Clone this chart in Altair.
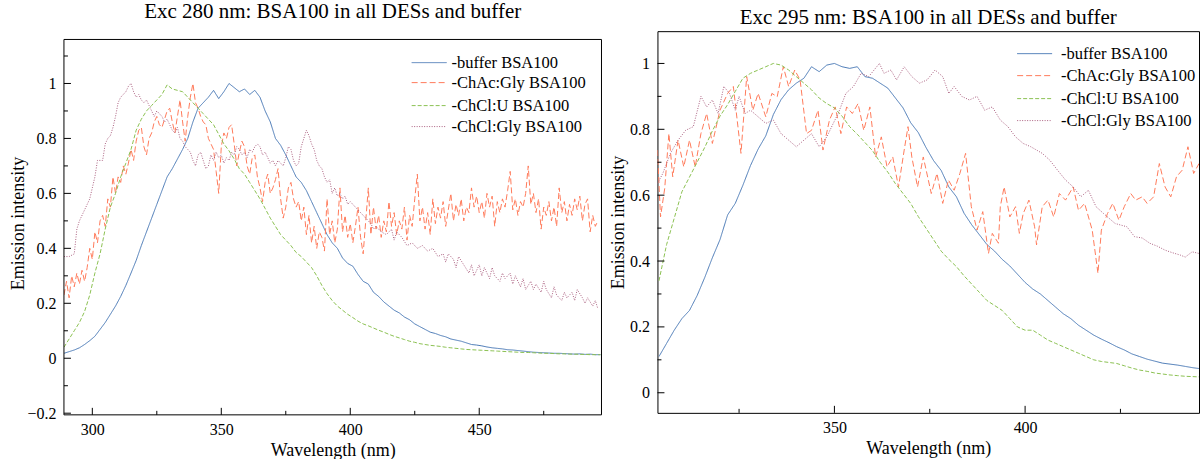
import altair as alt
import pandas as pd

FONT = "Liberation Serif"
SERIES = ["-buffer BSA100", "-ChAc:Gly BSA100", "-ChCl:U BSA100", "-ChCl:Gly BSA100"]
COLORS = ["#4a79b6", "#ff7a5a", "#8cc152", "#ab5f80"]
DASHES = [[1, 0], [6, 3], [4, 2], [1, 1.5]]
TITLES = ["Exc 280 nm: BSA100 in all DESs and buffer", "Exc 295 nm: BSA100 in all DESs and buffer"]
X_TITLE = "Wavelength (nm)"
Y_TITLE = "Emission intensity"

# ---------------- Panel A: excitation 280 nm ----------------
a_grid = list(range(289, 498, 2))
a_buffer = [0.018, 0.024, 0.03, 0.038, 0.05, 0.064, 0.08, 0.105, 0.13, 0.16,
            0.19, 0.225, 0.265, 0.31, 0.356, 0.41, 0.46, 0.51, 0.56, 0.61,
            0.66, 0.69, 0.725, 0.76, 0.80, 0.86, 0.91, 0.93, 0.95, 0.975,
            0.945, 0.97, 1.0, 0.985, 0.97, 0.98, 0.96, 0.975, 0.95, 0.90,
            0.86, 0.80, 0.775, 0.74, 0.70, 0.66, 0.64, 0.61, 0.57, 0.53,
            0.49, 0.45, 0.42, 0.40, 0.365, 0.345, 0.335, 0.305, 0.28, 0.27,
            0.24, 0.225, 0.205, 0.19, 0.175, 0.165, 0.15, 0.14, 0.125, 0.115,
            0.105, 0.095, 0.09, 0.083, 0.078, 0.07, 0.066, 0.062, 0.056, 0.05,
            0.048, 0.045, 0.041, 0.038, 0.036, 0.034, 0.031, 0.03, 0.028, 0.026,
            0.024, 0.022, 0.021, 0.02, 0.019, 0.018, 0.018, 0.017, 0.016, 0.015,
            0.016, 0.014, 0.015, 0.013, 0.013]
a_chcl_u = [0.04, 0.07, 0.10, 0.13, 0.17, 0.23, 0.31, 0.38, 0.47, 0.55,
            0.60, 0.66, 0.71, 0.76, 0.83, 0.87, 0.90, 0.92, 0.94, 0.96,
            0.995, 0.98, 0.975, 0.97, 0.95, 0.93, 0.91, 0.89, 0.87, 0.85,
            0.815, 0.78, 0.755, 0.725, 0.69, 0.67, 0.64, 0.61, 0.58, 0.545,
            0.51, 0.48, 0.45, 0.43, 0.41, 0.385, 0.37, 0.35, 0.33, 0.30,
            0.265, 0.235, 0.21, 0.19, 0.175, 0.16, 0.148, 0.135, 0.125, 0.118,
            0.11, 0.102, 0.095, 0.087, 0.08, 0.074, 0.068, 0.062, 0.058, 0.053,
            0.05, 0.047, 0.045, 0.043, 0.04, 0.038, 0.036, 0.034, 0.032, 0.031,
            0.03, 0.029, 0.028, 0.027, 0.026, 0.025, 0.024, 0.023, 0.022, 0.021,
            0.021, 0.02, 0.019, 0.018, 0.018, 0.017, 0.016, 0.016, 0.015, 0.015,
            0.014, 0.014, 0.013, 0.013, 0.013]
a_chac_x = list(range(289, 497))
a_chac = [0.23, 0.28, 0.22, 0.30, 0.26, 0.31, 0.27, 0.32, 0.28, 0.33, 0.40,
          0.36, 0.46, 0.42, 0.50, 0.52, 0.48, 0.58, 0.55, 0.66, 0.60,
          0.66, 0.64, 0.70, 0.67, 0.71, 0.76, 0.72, 0.79, 0.83, 0.84,
          0.77, 0.74, 0.80, 0.82, 0.86, 0.88, 0.85, 0.84, 0.87, 0.90,
          0.91, 0.86, 0.82, 0.88, 0.94, 0.86, 0.79, 0.88, 0.95, 1.0,
          0.93, 0.91, 0.88, 0.86, 0.85, 0.80, 0.78, 0.76, 0.68, 0.60,
          0.77, 0.82, 0.80, 0.84, 0.85, 0.78, 0.70, 0.75, 0.79, 0.77,
          0.70, 0.67, 0.73, 0.74, 0.66, 0.62, 0.57, 0.64, 0.67, 0.60,
          0.62, 0.65, 0.69, 0.58, 0.51, 0.55, 0.62, 0.64, 0.58, 0.55,
          0.57, 0.50, 0.55, 0.45, 0.52, 0.42, 0.48, 0.40, 0.46, 0.44,
          0.39, 0.58, 0.45, 0.50, 0.42, 0.47, 0.62, 0.46, 0.52, 0.44,
          0.49, 0.42, 0.48, 0.55, 0.44, 0.38, 0.50, 0.62, 0.45, 0.55,
          0.47, 0.52, 0.44, 0.50, 0.46, 0.57, 0.48, 0.53, 0.45, 0.50,
          0.47, 0.55, 0.43, 0.52, 0.48, 0.58, 0.67, 0.50, 0.55, 0.47,
          0.53, 0.45, 0.58, 0.49, 0.55, 0.51, 0.57, 0.48, 0.54, 0.60,
          0.50, 0.56, 0.52, 0.58, 0.50, 0.55, 0.53, 0.62, 0.55, 0.59,
          0.53, 0.57, 0.51, 0.60, 0.55, 0.59, 0.48, 0.57, 0.53, 0.58,
          0.55, 0.61, 0.68, 0.54, 0.58, 0.52, 0.57, 0.55, 0.60, 0.70,
          0.56, 0.60, 0.53, 0.58, 0.47, 0.55, 0.52, 0.57, 0.50, 0.55,
          0.48, 0.62, 0.53, 0.57, 0.50, 0.56, 0.52, 0.58, 0.54, 0.59,
          0.50, 0.56, 0.58, 0.46, 0.52, 0.48, 0.50]
a_chcl_gly = [(289, 0.37), (291, 0.37), (293, 0.38), (294, 0.47), (295, 0.50), (297, 0.54),
              (299, 0.58), (300, 0.62), (301, 0.66), (302, 0.72), (304, 0.72), (305, 0.78),
              (306, 0.80), (307, 0.81), (308, 0.84), (309, 0.88), (310, 0.93), (311, 0.95),
              (312, 0.96), (313, 0.97), (314, 0.99), (315, 1.0), (316, 0.97), (317, 0.95),
              (318, 0.96), (319, 0.94), (320, 0.93), (321, 0.94), (322, 0.92), (323, 0.90),
              (324, 0.88), (325, 0.90), (326, 0.89), (327, 0.88), (328, 0.86), (329, 0.87),
              (330, 0.85), (331, 0.83), (332, 0.82), (333, 0.84), (334, 0.80), (335, 0.79),
              (336, 0.77), (337, 0.76), (338, 0.75), (339, 0.72), (340, 0.70), (341, 0.74),
              (342, 0.75), (343, 0.72), (344, 0.69), (345, 0.70), (346, 0.74), (347, 0.72),
              (348, 0.75), (349, 0.73), (350, 0.74), (351, 0.71), (352, 0.73), (353, 0.72),
              (354, 0.75), (355, 0.74), (356, 0.77), (357, 0.76), (358, 0.74), (359, 0.75),
              (360, 0.73), (361, 0.76), (362, 0.75), (363, 0.77), (364, 0.78), (365, 0.77),
              (366, 0.74), (367, 0.75), (368, 0.73), (369, 0.71), (370, 0.72), (371, 0.70),
              (372, 0.72), (373, 0.71), (374, 0.70), (375, 0.73), (376, 0.77), (377, 0.76),
              (378, 0.72), (379, 0.70), (380, 0.71), (381, 0.77), (382, 0.80), (383, 0.83),
              (384, 0.81), (385, 0.78), (386, 0.76), (387, 0.72), (388, 0.70), (389, 0.69),
              (390, 0.66), (391, 0.64), (392, 0.65), (393, 0.60), (394, 0.62), (395, 0.59),
              (396, 0.60), (397, 0.58), (398, 0.59), (399, 0.56), (400, 0.57), (402, 0.55),
              (404, 0.53), (406, 0.51), (408, 0.49), (409, 0.47), (410, 0.48), (412, 0.46),
              (414, 0.45), (416, 0.47), (417, 0.43), (418, 0.46), (420, 0.44), (422, 0.41),
              (424, 0.42), (426, 0.40), (428, 0.41), (430, 0.39), (432, 0.40), (434, 0.37),
              (436, 0.38), (437, 0.35), (438, 0.38), (440, 0.36), (441, 0.33), (442, 0.37),
              (444, 0.34), (446, 0.31), (447, 0.34), (448, 0.30), (450, 0.34), (451, 0.30),
              (452, 0.33), (454, 0.29), (455, 0.33), (456, 0.30), (458, 0.28), (459, 0.31),
              (460, 0.29), (462, 0.31), (463, 0.27), (464, 0.30), (466, 0.26), (467, 0.29),
              (468, 0.25), (470, 0.28), (471, 0.25), (472, 0.27), (474, 0.24), (475, 0.28),
              (476, 0.25), (478, 0.22), (479, 0.26), (480, 0.23), (482, 0.21), (483, 0.24),
              (484, 0.22), (486, 0.24), (487, 0.21), (488, 0.25), (490, 0.22), (491, 0.20),
              (492, 0.22), (494, 0.19), (495, 0.21), (496, 0.18)]

# ---------------- Panel B: excitation 295 nm ----------------
b_grid = list(range(304, 447, 2))
b_buffer = [0.11, 0.15, 0.19, 0.225, 0.25, 0.295, 0.35, 0.41, 0.465, 0.54,
            0.575, 0.63, 0.69, 0.74, 0.78, 0.845, 0.89, 0.92, 0.94, 0.955,
            0.99, 0.975, 0.995, 1.0, 0.99, 0.985, 0.99, 0.96, 0.955, 0.94,
            0.925, 0.895, 0.865, 0.82, 0.79, 0.745, 0.705, 0.675, 0.625, 0.595,
            0.545, 0.51, 0.48, 0.45, 0.43, 0.405, 0.385, 0.36, 0.335, 0.315,
            0.30, 0.28, 0.26, 0.24, 0.225, 0.205, 0.19, 0.175, 0.163, 0.152,
            0.14, 0.13, 0.118, 0.11, 0.102, 0.096, 0.09, 0.087, 0.084, 0.08,
            0.076, 0.073]
b_chcl_u = [0.34, 0.45, 0.53, 0.61, 0.655, 0.70, 0.745, 0.795, 0.84, 0.875,
            0.915, 0.955, 0.97, 0.98, 0.99, 1.0, 0.995, 0.98, 0.96, 0.94,
            0.92, 0.895, 0.878, 0.865, 0.84, 0.808, 0.785, 0.76, 0.735, 0.70,
            0.67, 0.635, 0.605, 0.575, 0.535, 0.50, 0.465, 0.43, 0.405, 0.383,
            0.355, 0.33, 0.305, 0.28, 0.265, 0.25, 0.225, 0.20, 0.19, 0.19,
            0.175, 0.16, 0.15, 0.14, 0.13, 0.12, 0.11, 0.10, 0.095, 0.092,
            0.089, 0.082, 0.075, 0.069, 0.065, 0.06, 0.057, 0.054, 0.052, 0.05,
            0.049, 0.048]
b_chac = [(303.6, 0.737), (304.4, 0.534), (305.5, 0.62), (306.6, 0.787), (307.6, 0.656),
          (309, 0.767), (310.5, 0.686), (312, 0.767), (313.5, 0.686), (315, 0.787),
          (316.5, 0.848), (318, 0.757), (320, 0.858), (322, 0.909), (323.5, 0.93),
          (325.5, 0.727), (327, 0.96), (328.6, 0.858), (330, 0.909), (332, 0.838),
          (333.6, 0.909), (335, 0.899), (336.6, 0.99), (338, 0.93), (339.6, 0.98),
          (341, 0.95), (342.7, 0.787), (344, 0.797), (345.7, 0.858), (347, 0.737),
          (348.7, 0.828), (350.2, 0.868), (351.7, 0.787), (353.2, 0.868), (354.7, 0.848),
          (356.2, 0.878), (357.7, 0.797), (359.3, 0.868), (360.8, 0.716), (362.3, 0.777),
          (363.8, 0.686), (365.3, 0.716), (366.8, 0.625), (368.3, 0.737), (369.3, 0.808),
          (370.3, 0.716), (371.8, 0.625), (373.3, 0.716), (375.4, 0.605), (376.9, 0.666),
          (378.4, 0.575), (379.9, 0.646), (381.4, 0.615), (382.9, 0.666), (384.4, 0.727),
          (385.9, 0.565), (387.4, 0.494), (388.9, 0.55), (390.4, 0.423), (391.4, 0.484),
          (393, 0.454), (393.5, 0.565), (394.5, 0.625), (396, 0.534), (397.5, 0.565),
          (398.5, 0.484), (399.5, 0.544), (401, 0.585), (402.5, 0.504), (403, 0.449),
          (404.5, 0.565), (406, 0.585), (407.5, 0.534), (409, 0.605), (410.6, 0.585),
          (412.6, 0.625), (414, 0.554), (415.6, 0.575), (417.6, 0.494), (419.1, 0.363),
          (420, 0.494), (421.6, 0.544), (423, 0.575), (424.6, 0.524), (426, 0.565),
          (427.7, 0.605), (429, 0.585), (430.7, 0.595), (432, 0.575), (433.7, 0.595),
          (435.2, 0.696), (436.7, 0.625), (438.2, 0.595), (439.7, 0.656), (441.2, 0.676),
          (442.7, 0.747), (444.2, 0.666), (445.6, 0.696)]
b_chcl_gly = [(303.6, 0.635), (305, 0.666), (307, 0.727), (309, 0.767), (311, 0.797),
              (313, 0.808), (315, 0.90), (316.5, 0.868), (318, 0.889), (319.5, 0.848),
              (321, 0.93), (322.5, 0.909), (324, 0.858), (325, 0.90), (326.6, 0.848),
              (328, 0.858), (330, 0.838), (332, 0.818), (334, 0.828), (336, 0.787),
              (338, 0.767), (340, 0.747), (342, 0.767), (344, 0.787), (346, 0.747),
              (348, 0.777), (349.7, 0.818), (351, 0.848), (353, 0.909), (355, 0.93),
              (357, 0.97), (359, 0.96), (361.8, 1.0), (363, 0.97), (364.8, 0.98),
              (366.3, 0.95), (368.3, 0.99), (370.3, 0.96), (372.3, 0.94), (374.3, 0.95),
              (376.4, 0.98), (378.4, 0.96), (380, 0.909), (381.4, 0.93), (383.4, 0.90),
              (385.4, 0.889), (387.4, 0.90), (389.4, 0.858), (391.4, 0.868), (393.5, 0.828),
              (395.5, 0.808), (397.5, 0.777), (399.5, 0.757), (401.5, 0.747), (404.5, 0.727),
              (406.5, 0.706), (408.5, 0.676), (410.6, 0.646), (412.6, 0.625), (414.6, 0.595),
              (416.6, 0.615), (418.6, 0.565), (420.6, 0.544), (423.6, 0.514), (426.7, 0.504),
              (428.7, 0.474), (430.7, 0.47), (432.7, 0.454), (434.7, 0.445), (436.7, 0.433),
              (438.7, 0.425), (440.7, 0.418), (442, 0.412), (443.8, 0.428), (445.6, 0.423)]

# axis tick values
A_XMAJ = [300, 350, 400, 450]
A_XMIN = [325, 375, 425, 475]
A_YMAJ = [-0.2, 0, 0.2, 0.4, 0.6, 0.8, 1.0]
A_YMIN = [-0.1, 0.1, 0.3, 0.5, 0.7, 0.9, 1.1]
B_XMAJ = [350, 400]
B_XMIN = [325, 375, 425]
B_YMAJ = [0, 0.2, 0.4, 0.6, 0.8, 1.0]
B_YMIN = [0.1, 0.3, 0.5, 0.7, 0.9]


def table(parts):
    rows = []
    for name, xs, ys in parts:
        for x, y in zip(xs, ys):
            rows.append({"series": name, "x": x, "y": y})
    return pd.DataFrame(rows)


df_a = table([
    (SERIES[0], a_grid, a_buffer),
    (SERIES[1], a_chac_x, a_chac),
    (SERIES[2], a_grid, a_chcl_u),
    (SERIES[3], [p[0] for p in a_chcl_gly], [p[1] for p in a_chcl_gly]),
])
df_b = table([
    (SERIES[0], b_grid, b_buffer),
    (SERIES[1], [p[0] for p in b_chac], [p[1] for p in b_chac]),
    (SERIES[2], b_grid, b_chcl_u),
    (SERIES[3], [p[0] for p in b_chcl_gly], [p[1] for p in b_chcl_gly]),
])


def panel(df, title, xdom, ydom, w, h, xmaj, xmin, ymaj, ymin,
          leg_x, leg_rows, leg_gap, title_offset, ytitle_x, frame_top=None):
    xsc = alt.Scale(domain=xdom, nice=False, zero=False)
    ysc = alt.Scale(domain=ydom, nice=False, zero=False)
    xaxis = alt.Axis(values=xmaj, format="d", tickSize=0, domain=False, grid=False,
                     labelPadding=7, titlePadding=4, labelFont=FONT, labelFontSize=16,
                     titleFont=FONT, titleFontSize=18, titleFontWeight="normal",
                     labelColor="black", titleColor="black")
    yaxis = alt.Axis(values=ymaj, format=".1~f", tickSize=0, domain=False, grid=False,
                     labelPadding=8, labelFont=FONT, labelFontSize=16,
                     titleFont=FONT, titleFontSize=18, titleFontWeight="normal",
                     titleX=ytitle_x, titleBaseline="alphabetic",
                     labelColor="black", titleColor="black")
    xenc = alt.X("x:Q", scale=xsc, axis=xaxis, title=X_TITLE)
    yenc = alt.Y("y:Q", scale=ysc, axis=yaxis, title=Y_TITLE)

    lines = alt.Chart(df).mark_line(strokeWidth=1, clip=True).encode(
        x=xenc, y=yenc,
        color=alt.Color("series:N", scale=alt.Scale(domain=SERIES, range=COLORS), legend=None),
        strokeDash=alt.StrokeDash("series:N", scale=alt.Scale(domain=SERIES, range=DASHES), legend=None),
        detail="series:N",
    )
    layers = [lines]
    for vals, ln in ((xmaj, 7), (xmin, 4)):
        layers.append(alt.Chart(pd.DataFrame({"x": vals})).mark_rule(color="black", strokeWidth=1).encode(
            x=xenc, y=alt.value(h), y2=alt.value(h - ln)))
    for vals, ln in ((ymaj, 7), (ymin, 4)):
        layers.append(alt.Chart(pd.DataFrame({"y": vals})).mark_rule(color="black", strokeWidth=1).encode(
            y=yenc, x=alt.value(0), x2=alt.value(ln)))
    for i, name in enumerate(SERIES):
        d = pd.DataFrame({"series": [name]})
        layers.append(alt.Chart(d).mark_rule(color=COLORS[i], strokeDash=DASHES[i], strokeWidth=1).encode(
            x=alt.value(leg_x), x2=alt.value(leg_x + 35), y=alt.value(leg_rows[i])))
        layers.append(alt.Chart(d).mark_text(align="left", baseline="middle", font=FONT, fontSize=16.5,
                                             color="black").encode(
            x=alt.value(leg_x + 35 + leg_gap), y=alt.value(leg_rows[i]), text="series:N"))
    props = dict(width=w, height=h,
                 title=alt.Title(title, font=FONT, fontSize=21, fontWeight="normal", color="black",
                                 offset=title_offset, anchor="middle"))
    if frame_top is not None:
        # plot frame drawn as rules, starting below the group's top edge
        fr = pd.DataFrame({"part": ["frame"]})
        base = alt.Chart(fr).mark_rule(color="black", strokeWidth=1)
        layers.append(base.encode(x=alt.value(0), x2=alt.value(w), y=alt.value(frame_top)))
        layers.append(base.encode(x=alt.value(0), x2=alt.value(w), y=alt.value(h)))
        layers.append(base.encode(x=alt.value(0), y=alt.value(frame_top), y2=alt.value(h)))
        layers.append(base.encode(x=alt.value(w), y=alt.value(frame_top), y2=alt.value(h)))
        props["view"] = alt.ViewBackground(stroke="transparent")
    return alt.layer(*layers).properties(**props)


# left panel: group top at the same height as the right one; its frame begins 8 px lower
left = panel(df_a, TITLES[0], [289, 497.4], [-0.206, 1.1904], 538, 384,
             A_XMAJ, A_XMIN, A_YMAJ, A_YMIN, 348, [31.5, 51.5, 74.5, 95.5], 5, 9, -40,
             frame_top=8.3)
right = panel(df_b, TITLES[1], [303.6, 445.6], [-0.061, 1.098], 542, 382,
              B_XMAJ, B_XMIN, B_YMAJ, B_YMIN, 360, [22.5, 44.5, 67.5, 89.5], 9, 3, -34)

chart = alt.hconcat(left, right, spacing=6).properties(
    padding={"left": 9, "top": 0, "right": 0, "bottom": 0},
    background="white",
).configure_view(stroke="black", strokeWidth=1)

chart.save("out.html", embed_options={"renderer": "svg", "actions": False})
